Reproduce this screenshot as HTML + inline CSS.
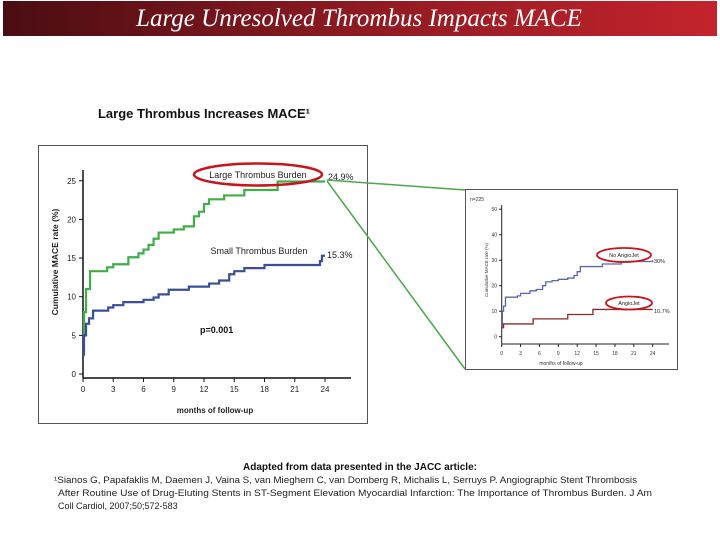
<!DOCTYPE html>
<html><head><meta charset="utf-8"><style>
html,body{margin:0;padding:0;background:#fff;width:720px;height:540px;overflow:hidden;font-family:"Liberation Sans",sans-serif}
</style></head><body>
<svg width="720" height="540" viewBox="0 0 720 540" xmlns="http://www.w3.org/2000/svg">
<defs><linearGradient id="hg" x1="0" x2="1" y1="0" y2="0"><stop offset="0" stop-color="#4a0d12"/><stop offset="0.5" stop-color="#8e1a22"/><stop offset="1" stop-color="#c4232c"/></linearGradient></defs>
<rect x="3" y="1" width="714" height="35" fill="url(#hg)"/>
<text x="359" y="26" text-anchor="middle" fill="#fff" font-family="Liberation Serif,serif" font-style="italic" font-size="25">Large Unresolved Thrombus Impacts MACE</text>
<text x="98" y="118" font-size="13" font-weight="bold" fill="#111" textLength="212" lengthAdjust="spacingAndGlyphs">Large Thrombus Increases MACE¹</text>
<rect x="38.5" y="145.5" width="329" height="278" fill="none" stroke="#555"/>
<g id="main"></g>
<rect x="465.5" y="189.5" width="212" height="180" fill="none" stroke="#555"/>
<g id="inset"></g>
<line x1="327" y1="180" x2="465" y2="190" stroke="#4aa84a" stroke-width="1.5"/>
<line x1="327" y1="181" x2="465" y2="369" stroke="#4aa84a" stroke-width="1.5"/>
<text x="360" y="470" text-anchor="middle" font-size="10" font-weight="bold" fill="#111">Adapted from data presented in the JACC article:</text>
<text x="54" y="483" font-size="9" fill="#222" textLength="583" lengthAdjust="spacingAndGlyphs">¹Sianos G, Papafaklis M, Daemen J, Vaina S, van Mieghem C, van Domberg R, Michalis L, Serruys P.  Angiographic Stent Thrombosis</text>
<text x="58" y="496" font-size="9" fill="#222" textLength="594" lengthAdjust="spacingAndGlyphs">After Routine Use of Drug-Eluting Stents in ST-Segment Elevation Myocardial Infarction: The Importance of Thrombus Burden. J Am</text>
<text x="58" y="509" font-size="9" fill="#222">Coll Cardiol, 2007;50;572-583</text>
</svg>
<script>
const NS="http://www.w3.org/2000/svg";
const mainXTicks=[0,3,6,9,12,15,18,21,24];
const mainYTicks=[0,5,10,15,20,25];
const largeMonths=[0,0.1,0.3,0.7,2.4,3,4.5,5.5,6,6.5,7,7.5,9,10,11,11.5,12,12.5,14,16,19.3,24];
const largeRates=[5,8,11,13.3,13.8,14.2,15.1,15.6,16.1,16.7,17.5,18.3,18.7,19.1,20.4,21,22,22.6,23.1,23.8,24.9,24.9];
const smallMonths=[0,0.1,0.3,0.6,1,2.5,3,4,6,7,7.5,8.5,10.5,12.5,13.5,14.5,15,16,18,23.5,23.7,24];
const smallRates=[2.5,5,6.5,7.2,8.2,8.6,8.9,9.3,9.6,9.9,10.3,10.9,11.3,11.7,12.1,12.9,13.3,13.7,14.1,14.6,15.3,15.3];
const insetXTicks=[0,3,6,9,12,15,18,21,24];
const insetYTicks=[0,10,20,30,40,50];
const noJetMonths=[0,0.1,0.3,0.6,2.5,3,4.5,5.5,6.5,7,8,9,10.5,11.5,12,12.5,16,19,24];
const noJetRates=[4,10,12,15.5,16,17,18,18.5,20,21.5,22,22.5,23,24,25.5,27.5,28.5,29.5,30];
const jetMonths=[0,0.3,5,10.5,14.5,24];
const jetRates=[3.5,5,7,8.7,10.7,10.7];
function mk(tag,attrs,parent,text){const e=document.createElementNS(NS,tag);for(const k in attrs)e.setAttribute(k,attrs[k]);if(text!==undefined)e.textContent=text;parent.appendChild(e);return e;}
function stepPath(xs,ys,sx,sy){let d="M"+sx(xs[0])+","+sy(ys[0]);for(let i=1;i<xs.length;i++){d+=" H"+sx(xs[i])+" V"+sy(ys[i]);}return d;}
// main chart
const m=document.getElementById('main');
const mx=v=>83+v*(242/24), my=v=>374-v*7.73;
let e=mk('line',{x1:83,y1:170,x2:83,y2:378,stroke:'#111','stroke-width':1.5},m);

e=mk('line',{x1:83,y1:378,x2:351,y2:378,stroke:'#111','stroke-width':1.5},m);

mainXTicks.forEach(t=>{mk('line',{x1:mx(t),y1:378,x2:mx(t),y2:382,stroke:'#111'},m);
 e=mk('text',{x:mx(t),y:392,'text-anchor':'middle','font-size':8,fill:'#222'},m,t);
 });
mainYTicks.forEach(t=>{mk('line',{x1:79,y1:my(t),x2:83,y2:my(t),stroke:'#111'},m);
 e=mk('text',{x:76,y:my(t)+3,'text-anchor':'end','font-size':8,fill:'#222'},m,t);
 });
e=mk('text',{x:215,y:413,'text-anchor':'middle','font-size':8,'font-weight':'bold',fill:'#222'},m,'months of follow-up');

e=mk('text',{x:58,y:262,'text-anchor':'middle','font-size':8.5,'font-weight':'bold',fill:'#222',transform:'rotate(-90 58 262)'},m,'Cumulative MACE rate (%)');

e=mk('path',{d:stepPath(largeMonths,largeRates,mx,my),fill:'none',stroke:'#3fae49','stroke-width':2.2},m);

e=mk('path',{d:stepPath(smallMonths,smallRates,mx,my),fill:'none',stroke:'#3a4f9a','stroke-width':2.2},m);

e=mk('ellipse',{cx:258,cy:174.5,rx:64,ry:11,fill:'none',stroke:'#c8141c','stroke-width':2.5},m);

e=mk('text',{x:258,y:178,'text-anchor':'middle','font-size':9,fill:'#222'},m,'Large Thrombus Burden');

e=mk('text',{x:328,y:180,'font-size':9,fill:'#222'},m,'24.9%');

e=mk('text',{x:259,y:254,'text-anchor':'middle','font-size':9,fill:'#222'},m,'Small Thrombus Burden');

e=mk('text',{x:327,y:258,'font-size':9,fill:'#222'},m,'15.3%');

e=mk('text',{x:200,y:333,'font-size':9,'font-weight':'bold',fill:'#111'},m,'p=0.001');

// inset chart
const s=document.getElementById('inset');
const ix=v=>501.7+v*(151/24), iy=v=>336.7-v*2.55;
e=mk('line',{x1:501.7,y1:205,x2:501.7,y2:344,stroke:'#222'},s);

e=mk('line',{x1:501.7,y1:344,x2:669,y2:344,stroke:'#222'},s);

insetXTicks.forEach(t=>{mk('line',{x1:ix(t),y1:344,x2:ix(t),y2:347,stroke:'#222'},s);
 e=mk('text',{x:ix(t),y:355,'text-anchor':'middle','font-size':5,fill:'#333'},s,t);
 });
insetYTicks.forEach(t=>{mk('line',{x1:499,y1:iy(t),x2:501.7,y2:iy(t),stroke:'#222'},s);
 e=mk('text',{x:497,y:iy(t)+2,'text-anchor':'end','font-size':5,fill:'#333'},s,t);
 });
e=mk('text',{x:470,y:201,'font-size':5,fill:'#333'},s,'n=225');

e=mk('text',{x:561,y:365,'text-anchor':'middle','font-size':5,fill:'#333'},s,'months of follow-up');

e=mk('text',{x:488,y:270,'text-anchor':'middle','font-size':4.5,fill:'#333',transform:'rotate(-90 488 270)'},s,'Cumulative MACE rate (%)');

e=mk('path',{d:stepPath(noJetMonths,noJetRates,ix,iy),fill:'none',stroke:'#5a67a8','stroke-width':1.3},s);

e=mk('path',{d:stepPath(jetMonths,jetRates,ix,iy),fill:'none',stroke:'#8a2a2a','stroke-width':1.3},s);

e=mk('ellipse',{cx:624,cy:255,rx:27,ry:7,fill:'none',stroke:'#c8141c','stroke-width':1.8},s);

e=mk('text',{x:624,y:257,'text-anchor':'middle','font-size':5.5,fill:'#222'},s,'No AngioJet');

e=mk('text',{x:654,y:263,'font-size':5.5,fill:'#222'},s,'30%');

e=mk('ellipse',{cx:629,cy:303,rx:23,ry:6.5,fill:'none',stroke:'#c8141c','stroke-width':1.8},s);

e=mk('text',{x:629,y:305,'text-anchor':'middle','font-size':5.5,fill:'#222'},s,'AngioJet');

e=mk('text',{x:654,y:313,'font-size':5.5,fill:'#222'},s,'10.7%');

</script>
</body></html>
